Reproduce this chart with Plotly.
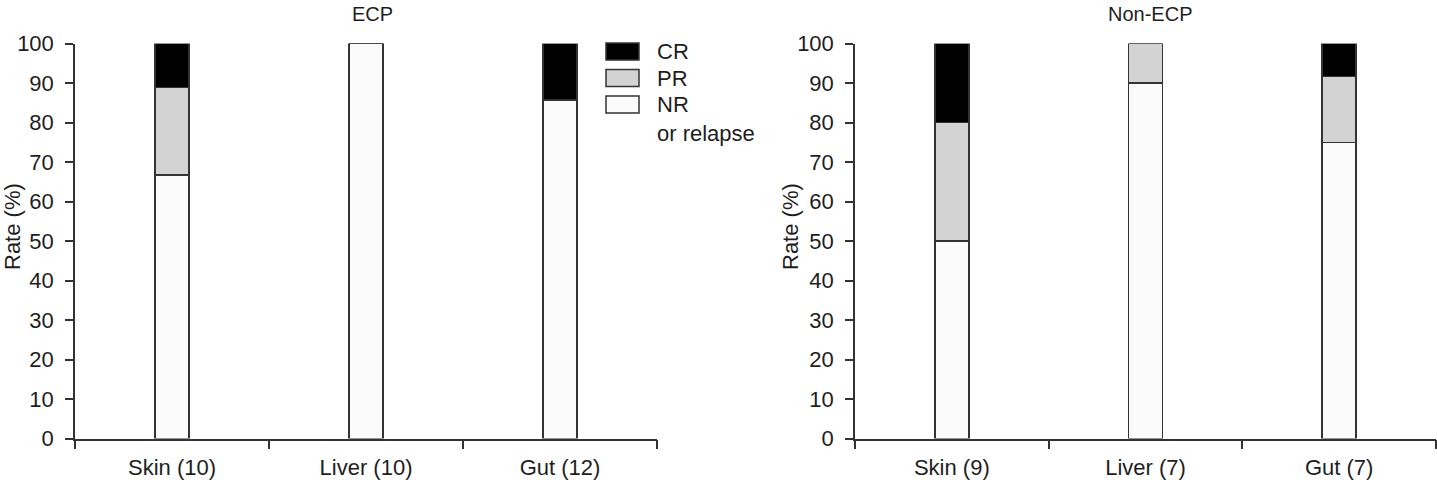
import plotly.graph_objects as go

W, H = 1437, 480

# ---------------- data ----------------
categories_ecp = ["Skin (10)", "Liver (10)", "Gut (12)"]
categories_non = ["Skin (9)", "Liver (7)", "Gut (7)"]
ecp_nr = [66.7, 100, 85.7]
ecp_pr = [22.2, 0, 0]
ecp_cr = [11.1, 0, 14.3]
non_nr = [50, 90, 75]
non_pr = [30, 10, 16.7]
non_cr = [20, 0, 8.3]
panel_titles = ["ECP", "Non-ECP"]
series_names = ["NR or relapse", "PR", "CR"]
legend_labels = ["CR", "PR", "NR<br>or relapse"]
y_axis_title = "Rate (%)"
y_ticks = list(range(0, 101, 10))

# ---------------- style ----------------
FONT = "Liberation Sans, Arial, sans-serif"
TXT = "#1e1e1e"
LINE = "#333333"
colors = {"NR or relapse": "#fbfbfb", "PR": "#d3d3d3", "CR": "#000000"}


def px_x(p):
    return p / W


def px_y(p):
    return 1 - p / H


fig = go.Figure()

panels = [
    ("x", "y", categories_ecp, [ecp_nr, ecp_pr, ecp_cr]),
    ("x2", "y2", categories_non, [non_nr, non_pr, non_cr]),
]
for xa, ya, cats, vals in panels:
    for name, v in zip(series_names, vals):
        fig.add_trace(go.Bar(
            x=cats, y=v, name=name, xaxis=xa, yaxis=ya,
            width=0.175,
            marker=dict(color=colors[name], line=dict(color=LINE, width=1.5)),
            showlegend=False, hoverinfo="x+y+name",
        ))

ydom = [px_y(438.5), px_y(43.5)]
axis_common = dict(
    showline=True, linecolor=LINE, linewidth=1.5,
    ticks="outside", tickcolor=LINE, tickwidth=1.5,
    showgrid=False, zeroline=False, automargin=False,
    tickfont=dict(family=FONT, size=22, color=TXT),
)
fig.update_layout(
    width=W, height=H,
    margin=dict(l=0, r=0, t=0, b=0, autoexpand=False),
    paper_bgcolor="white", plot_bgcolor="white",
    barmode="stack",
    showlegend=False,
    xaxis=dict(domain=[px_x(75), px_x(657)], anchor="y", tickson="boundaries",
               ticklen=9, ticklabelstandoff=8, range=[-0.5, 2.5], **axis_common),
    xaxis2=dict(domain=[px_x(855), px_x(1436)], anchor="y2", tickson="boundaries",
                ticklen=9, ticklabelstandoff=8, range=[-0.5, 2.5], **axis_common),
    yaxis=dict(domain=ydom, anchor="x", range=[0, 100], tickvals=y_ticks,
               ticklen=8, ticklabelstandoff=7, **axis_common),
    yaxis2=dict(domain=ydom, anchor="x2", range=[0, 100], tickvals=y_ticks,
                ticklen=8, ticklabelstandoff=7, **axis_common),
)

annotations = []
# panel titles
for title, cx in zip(panel_titles, [372, 1150]):
    annotations.append(dict(text=title, x=px_x(cx), y=px_y(14), xref="paper", yref="paper",
                            xanchor="center", yanchor="middle", showarrow=False,
                            font=dict(family=FONT, size=20, color=TXT)))
# y-axis titles
for cx in [12, 790]:
    annotations.append(dict(text=y_axis_title, x=px_x(cx), y=px_y(227), xref="paper", yref="paper",
                            xanchor="center", yanchor="middle", textangle=-90, showarrow=False,
                            font=dict(family=FONT, size=22, color=TXT)))

# legend (manual, to match boxes)
shapes = []
legend_fill = [colors["CR"], colors["PR"], colors["NR or relapse"]]
box_tops = [43, 69.5, 96]
for lab, fill, top in zip(legend_labels, legend_fill, box_tops):
    shapes.append(dict(type="rect", xref="paper", yref="paper",
                       x0=px_x(606), x1=px_x(639), y0=px_y(top + 17), y1=px_y(top),
                       fillcolor=fill, line=dict(color=LINE, width=1.5)))
    annotations.append(dict(text=lab, x=px_x(655), y=px_y(top - 6), xref="paper", yref="paper",
                            xanchor="left", yanchor="top", align="left", showarrow=False,
                            font=dict(family=FONT, size=22, color=TXT)))

fig.update_layout(annotations=annotations, shapes=shapes)

fig.write_html("out.html")
